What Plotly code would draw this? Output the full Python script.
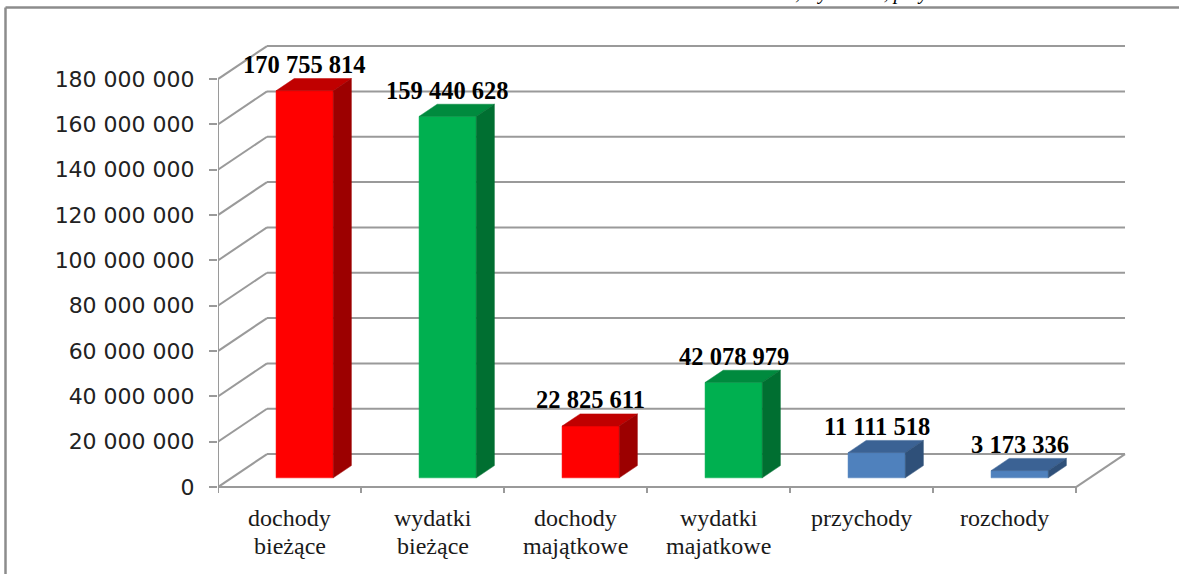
import plotly.graph_objects as go

cat_line1 = ["dochody", "wydatki", "dochody", "wydatki", "przychody", "rozchody"]
cat_line2 = ["bieżące", "bieżące", "majątkowe", "majatkowe", "", ""]
values = [170755814, 159440628, 22825611, 42078979, 11111518, 3173336]
value_labels = ["170 755 814", "159 440 628", "22 825 611", "42 078 979", "11 111 518", "3 173 336"]
bar_groups = ["red", "green", "red", "green", "blue", "blue"]
tick_values = [0, 20e6, 40e6, 60e6, 80e6, 100e6, 120e6, 140e6, 160e6, 180e6]
tick_labels = ["0", "20 000 000", "40 000 000", "60 000 000", "80 000 000", "100 000 000",
               "120 000 000", "140 000 000", "160 000 000", "180 000 000"]

palette = {
    "red": ("#FF0000", "#C00000", "#9C0000"),
    "green": ("#00B050", "#008A3E", "#006F31"),
    "blue": ("#4F81BD", "#3B6294", "#2F5079"),
}

W, H = 1179, 574
ML, MR, MT = 218, 52, 43
PX_U = 143.0
PX_M = 408.0 / 180e6             # pixels per value unit
plot_w = W - ML - MR
plot_h = 452
MB = H - MT - plot_h
xr = [0, plot_w / PX_U]
ybot = -3.5e6
yr = [ybot, ybot + plot_h / PX_M]

DX = 49 / PX_U                   # depth offset in x units
DY = 33 / PX_M                   # depth offset in value units
F1, F2 = 0.28, 0.65              # bar front/back depth fractions
BL, BW = 0.31, 0.40              # bar left offset and width in category

n = len(values)
grid = "#9A9A9A"
fig = go.Figure()


def line(xs, ys, color=grid, width=2):
    fig.add_trace(go.Scatter(x=xs, y=ys, mode="lines", line=dict(color=color, width=width),
                             hoverinfo="skip", showlegend=False))


def poly(xs, ys, color):
    fig.add_trace(go.Scatter(x=xs + [xs[0]], y=ys + [ys[0]], mode="lines", fill="toself",
                             fillcolor=color, line=dict(color=color, width=0.5),
                             hoverinfo="skip", showlegend=False))


def py2paper(py):
    return (MT + plot_h - py) / plot_h


def px2paper(px):
    return (px - ML) / plot_w


# walls: back gridlines and side diagonals
for t in tick_values:
    line([DX, n + DX], [t + DY, t + DY])
    line([0, DX], [t, t + DY])
# floor
line([0, n], [0, 0])
line([n, n + DX], [0, DY])
# front value axis line
line([0, 0], [0, tick_values[-1]])
# category ticks
for i in range(n + 1):
    line([i, i], [0, -6 / PX_M])

# bars
for i, (v, g) in enumerate(zip(values, bar_groups)):
    front, top, side = palette[g]
    xl = i + BL
    xrr = xl + BW
    fx1, fy1 = F1 * DX, F1 * DY
    fx2, fy2 = F2 * DX, F2 * DY
    poly([xl + fx1, xrr + fx1, xrr + fx1, xl + fx1], [fy1, fy1, v + fy1, v + fy1], front)
    poly([xl + fx1, xrr + fx1, xrr + fx2, xl + fx2], [v + fy1, v + fy1, v + fy2, v + fy2], top)
    poly([xrr + fx1, xrr + fx2, xrr + fx2, xrr + fx1], [fy1, fy2, v + fy2, v + fy1], side)
    fig.add_annotation(x=xl + BW / 2 + fx1, y=v + fy2, text=value_labels[i], showarrow=False,
                       xanchor="center", yanchor="middle", yshift=14,
                       font=dict(family="Liberation Serif", size=24.5, color="#000000", weight="bold"))
    for txt, pyc in ((cat_line1[i], 518), (cat_line2[i], 546)):
        if txt:
            fig.add_annotation(xref="x", yref="paper", x=i + 0.5, y=py2paper(pyc), text=txt,
                               showarrow=False, xanchor="center", yanchor="middle",
                               font=dict(family="Liberation Serif", size=24, color="#1a1a1a"))

# frame
fig.add_shape(type="line", xref="paper", yref="paper", x0=px2paper(5.5), x1=px2paper(1260),
              y0=py2paper(7.5), y1=py2paper(7.5), line=dict(color="#8C8C8C", width=2.5))
fig.add_shape(type="line", xref="paper", yref="paper", x0=px2paper(5.5), x1=px2paper(5.5),
              y0=py2paper(7.5), y1=py2paper(640), line=dict(color="#8C8C8C", width=2.5))

fig.add_annotation(xref="paper", yref="paper", x=px2paper(1162), y=py2paper(6),
                   text="<i>Struktura dochodów, wydatków, przychodów i rozchodów budżetu</i>",
                   showarrow=False, xanchor="right", yanchor="bottom",
                   font=dict(family="Liberation Serif", size=20, color="#000000"))

fig.update_layout(
    width=W, height=H, autosize=False,
    margin=dict(l=ML, r=MR, t=MT, b=MB),
    paper_bgcolor="white", plot_bgcolor="rgba(0,0,0,0)",
    showlegend=False,
    xaxis=dict(range=xr, visible=False, fixedrange=True),
    yaxis=dict(range=yr, tickmode="array", tickvals=tick_values, ticktext=tick_labels,
               showgrid=False, zeroline=False, showline=False,
               ticks="outside", ticklen=8, tickwidth=2, tickcolor=grid,
               ticklabelstandoff=10,
               tickfont=dict(family="DejaVu Sans", size=22, color="#222222"), fixedrange=True),
)

fig.write_html("out.html", config={"displayModeBar": False},
               post_script="document.body.style.margin='0';document.body.style.overflow='hidden';")
